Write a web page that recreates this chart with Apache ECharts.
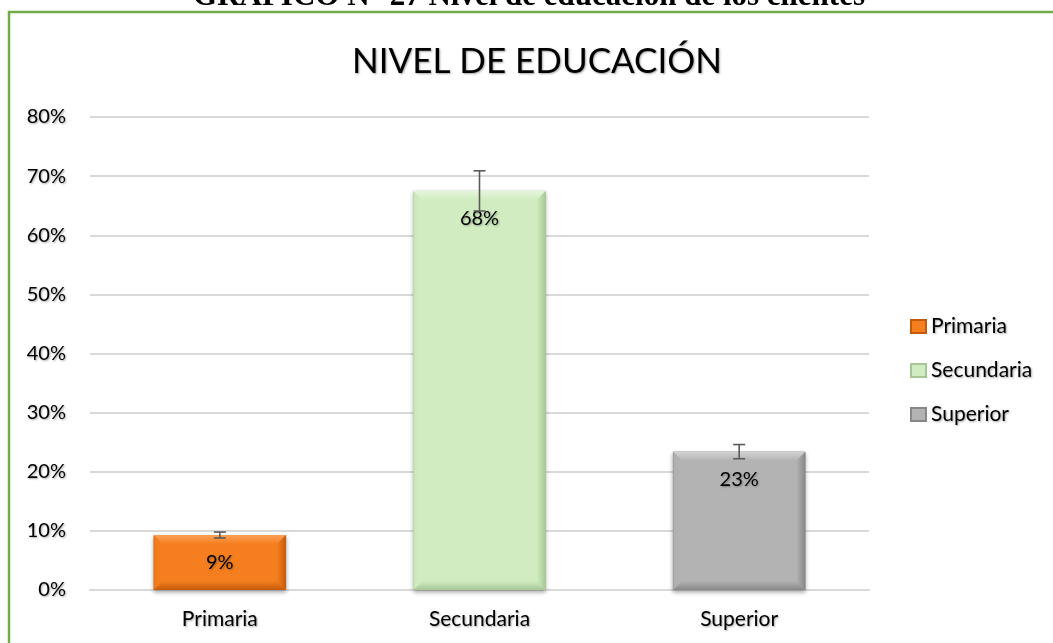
<!DOCTYPE html>
<html>
<head>
<meta charset="utf-8">
<script src="https://cdn.jsdelivr.net/npm/echarts@6/dist/echarts.min.js"></script>
<style>
  html, body { margin: 0; padding: 0; background: #fff; }
  #chart { width: 1053px; height: 643px; }
</style>
</head>
<body>
<div id="chart"></div>
<script>
// datos del grafico
var categorias = ['Primaria', 'Secundaria', 'Superior'];
var valores = [9.3, 67.5, 23.4];
var errores = [0.5, 3.4, 1.2];
var etiquetas = ['9%', '68%', '23%'];

// colores de cada barra: [claro, base, oscuro]
var colores = [
    ['#fba15a', '#f57f1e', '#c45a0c'],
    ['#e6f6dc', '#d0ecc0', '#a6c795'],
    ['#d2d2d2', '#b3b3b3', '#878787']
];

var chart = echarts.init(document.getElementById('chart'));
var fuente = 'Lato';
var sombraTexto = {
    textShadowColor: 'rgba(0,0,0,0.35)',
    textShadowBlur: 2,
    textShadowOffsetX: 1,
    textShadowOffsetY: 1
};

var series = [];
categorias.forEach(function (c, i) {
    var d = categorias.map(function (x, j) { return j === i ? valores[j] : '-'; });
    series.push({
        name: c,
        type: 'bar',
        stack: 'total',
        barWidth: '51%',
        data: d,
        itemStyle: {
            color: colores[i][1],
            borderColor: colores[i][2],
            borderWidth: 1,
            shadowColor: 'rgba(0,0,0,0.3)',
            shadowBlur: 4,
            shadowOffsetY: 2
        },
        label: {
            show: true,
            position: 'insideTop',
            distance: 18,
            fontFamily: fuente,
            fontSize: 20,
            color: '#000',
            textShadowColor: 'rgba(0,0,0,0.3)',
            textShadowBlur: 2,
            textShadowOffsetX: 1,
            textShadowOffsetY: 1,
            formatter: function (p) { return etiquetas[p.dataIndex]; }
        }
    });
});

// biseles sobre las barras
series.push({
    type: 'custom',
    silent: true,
    z: 3,
    data: valores.map(function (v, i) { return [i, v]; }),
    renderItem: function (params, api) {
        var i = api.value(0);
        var top = api.coord([i, api.value(1)]);
        var bot = api.coord([i, 0]);
        var w = api.size([1, 0])[0] * 0.51;
        var x0 = top[0] - w / 2, x1 = top[0] + w / 2;
        var y0 = top[1], y1 = bot[1];
        var b = 9;
        var c = colores[i];
        return {
            type: 'group',
            children: [
                {type: 'polygon', shape: {points: [[x0, y0], [x1, y0], [x1 - b, y0 + b], [x0 + b, y0 + b]]},
                    style: {fill: new echarts.graphic.LinearGradient(0, 0, 0, 1, [{offset: 0, color: c[0]}, {offset: 1, color: c[1]}])}},
                {type: 'polygon', shape: {points: [[x0, y1], [x1, y1], [x1 - b, y1 - b], [x0 + b, y1 - b]]},
                    style: {fill: new echarts.graphic.LinearGradient(0, 0, 0, 1, [{offset: 0, color: c[1]}, {offset: 1, color: c[2]}])}},
                {type: 'polygon', shape: {points: [[x1, y0], [x1, y1], [x1 - b, y1 - b], [x1 - b, y0 + b]]},
                    style: {fill: new echarts.graphic.LinearGradient(0, 0, 1, 0, [{offset: 0, color: c[1]}, {offset: 1, color: c[2]}])}},
                {type: 'polygon', shape: {points: [[x0, y0], [x0, y1], [x0 + b, y1 - b], [x0 + b, y0 + b]]},
                    style: {fill: c[1], opacity: 0.6}}
            ]
        };
    }
});

// barras de error
series.push({
    type: 'custom',
    silent: true,
    z: 4,
    data: valores.map(function (v, i) { return [i, v - errores[i], v + errores[i]]; }),
    renderItem: function (params, api) {
        var i = api.value(0);
        var lo = api.coord([i, api.value(1)]);
        var hi = api.coord([i, api.value(2)]);
        var cap = 6;
        var st = {stroke: '#5a5a5a', lineWidth: 1.6};
        return {
            type: 'group',
            children: [
                {type: 'line', shape: {x1: lo[0], y1: lo[1], x2: hi[0], y2: hi[1]}, style: st},
                {type: 'line', shape: {x1: lo[0] - cap, y1: lo[1], x2: lo[0] + cap, y2: lo[1]}, style: st},
                {type: 'line', shape: {x1: hi[0] - cap, y1: hi[1], x2: hi[0] + cap, y2: hi[1]}, style: st}
            ]
        };
    }
});

var option = {
    backgroundColor: '#fff',
    animation: false,
    title: {
        text: 'NIVEL DE EDUCACIÓN',
        left: 532,
        textAlign: 'center',
        top: 39,
        textStyle: Object.assign({
            fontFamily: fuente,
            fontSize: 35,
            fontWeight: 'normal',
            color: '#000'
        }, sombraTexto)
    },
    graphic: [
        {
            type: 'text',
            x: 529,
            y: -3,
            style: {
                text: 'GRÁFICO N° 27 Nivel de educación de los clientes',
                font: 'bold 31px "Liberation Serif"',
                fill: '#000',
                align: 'center',
                verticalAlign: 'middle'
            },
            z: 0
        },
        {
            type: 'rect',
            shape: {x: 9, y: 12, width: 1200, height: 800},
            style: {fill: 'none', stroke: '#70ad47', lineWidth: 2.5},
            z: 10
        }
    ],
    legend: {
        orient: 'vertical',
        left: 905,
        top: 311,
        itemGap: 23,
        itemWidth: 15,
        itemHeight: 13,
        icon: 'rect',
        data: categorias,
        textStyle: Object.assign({
            fontFamily: fuente,
            fontSize: 21,
            lineHeight: 21,
            color: '#000'
        }, sombraTexto)
    },
    grid: {
        left: 90,
        right: 184,
        top: 117,
        bottom: 53
    },
    xAxis: {
        type: 'category',
        data: categorias,
        axisTick: {show: false},
        axisLine: {lineStyle: {color: '#d9d9d9', width: 2}},
        axisLabel: Object.assign({
            fontFamily: fuente,
            fontSize: 21,
            color: '#000',
            margin: 19
        }, sombraTexto)
    },
    yAxis: {
        type: 'value',
        min: 0,
        max: 80,
        interval: 10,
        axisLine: {show: false},
        axisTick: {show: false},
        splitLine: {lineStyle: {color: '#d9d9d9', width: 2}},
        axisLabel: Object.assign({
            fontFamily: fuente,
            fontSize: 20,
            color: '#000',
            margin: 24,
            formatter: '{value}%'
        }, sombraTexto)
    },
    series: series
};

chart.setOption(option);
window.addEventListener('resize', function () { chart.resize(); });
</script>
</body>
</html>
